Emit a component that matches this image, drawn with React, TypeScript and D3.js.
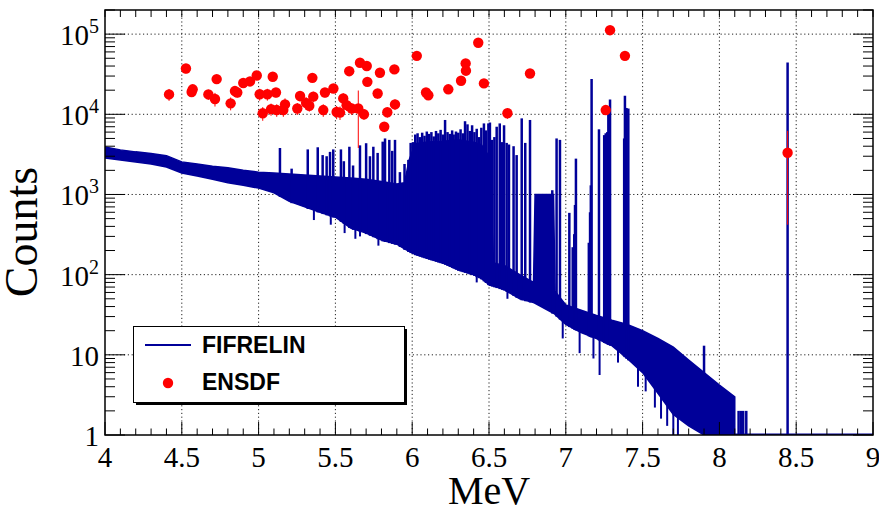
import React, { useEffect, useRef } from 'react';
import * as d3 from 'd3';

// continuum envelope of the FIFRELIN spectrum (MeV, counts)
const envE = [4.0, 4.1, 4.2, 4.3, 4.4, 4.5, 4.6, 4.7, 4.8, 4.9, 5.0, 5.1, 5.2, 5.3, 5.4, 5.5, 5.6, 5.7, 5.8, 5.9, 5.95, 5.98,
  6.02, 6.1, 6.2, 6.3, 6.4, 6.45, 6.5, 6.53, 6.6, 6.7, 6.79, 6.8, 6.92, 6.93, 7.0, 7.1, 7.2, 7.3, 7.4, 7.5, 7.6, 7.7, 7.8, 7.9, 8.0, 8.1];
const envLo = [2850, 2700, 2550, 2400, 2200, 1850, 1700, 1550, 1400, 1300, 1200, 1050, 820, 700, 600, 520, 380, 330, 270, 240, 210, 195,
  180, 160, 140, 115, 100, 90, 75, 72, 65, 50, 45, 44, 33, 32, 24, 19, 16, 13, 9, 6, 3.3, 1.8, 1.3, 1, 1, 1];
const envHi = [3900, 3600, 3400, 3250, 3050, 2550, 2400, 2250, 2150, 2000, 1900, 1850, 1800, 1750, 1700, 1650, 1600, 1550, 1450, 1350, 1400, 2700,
  4300, 4500, 4600, 4800, 4500, 4200, 3000, 140, 130, 100, 80, 1000, 1000, 62, 42, 36, 31, 27, 24, 20, 16, 12.5, 8.6, 6, 4.2, 3];

// gamma lines of the FIFRELIN spectrum (MeV, counts)
const peakE = [5.139, 5.215, 5.32, 5.385, 5.417, 5.443, 5.465, 5.486, 5.536, 5.555, 5.591, 5.615, 5.66, 5.70, 5.725, 5.747, 5.775,
  5.808, 5.823, 5.851, 5.87, 5.888, 5.92, 5.95,
  5.975, 5.99, 6.005, 6.02, 6.035, 6.05, 6.065, 6.08, 6.095, 6.11, 6.125, 6.14, 6.155, 6.17, 6.185, 6.2, 6.214, 6.23, 6.245,
  6.26, 6.27, 6.285, 6.3, 6.315, 6.33, 6.344, 6.36, 6.375, 6.39, 6.405, 6.42, 6.435, 6.45, 6.467, 6.48, 6.496, 6.506, 6.52,
  6.535, 6.55, 6.57, 6.585, 6.598, 6.615, 6.63, 6.66,
  6.68, 6.713, 6.736, 6.767, 6.912, 6.94, 6.962, 7.023, 7.045, 7.055, 7.06, 7.066,
  7.15, 7.158, 7.163, 7.168, 7.216, 7.25, 7.26, 7.27, 7.277, 7.288, 7.38, 7.385, 7.395, 7.407, 7.9, 8.125, 8.14, 8.155, 8.175, 8.444];
const peakH = [3800, 2100, 3650, 3880, 3100, 3000, 3400, 3650, 3650, 2600, 3940, 2300, 4100, 4360, 3000, 3940, 3300,
  4560, 5000, 4800, 3500, 4800, 1900, 2400,
  2700, 4400, 4500, 5600, 5800, 5200, 5900, 5400, 6100, 5700, 6000, 5300, 6200, 5800, 6400, 5600, 8500, 6000, 5700,
  6300, 5600, 6100, 5900, 6500, 5800, 8200, 7500, 6200, 7300, 6000, 6600, 5200, 6800, 7700, 6300, 7700, 7900, 4800,
  5200, 7000, 7700, 4500, 7300, 4400, 4200, 4000,
  3100, 8900, 4400, 8500, 1130, 5000, 4800, 590, 220, 320, 740, 2800,
  250, 600, 1300, 27500, 6500, 5500, 5800, 6000, 11300, 15300, 5000, 17000, 12000, 11800, 13, 2, 2, 2, 2, 44400];

// downward fluctuations of the continuum (MeV, counts)
const dipE = [5.36, 5.47, 5.56, 5.63, 5.66, 5.78, 6.42, 6.62, 6.98, 7.09, 7.18, 7.22, 7.34, 7.47, 7.52, 7.58, 7.62, 7.66, 7.7, 7.73];
const dipV = [480, 420, 330, 280, 300, 230, 80, 50, 16, 10.5, 9, 5.6, 8, 4, 3.5, 2.2, 1.6, 1.3, 1, 1];

// ENSDF intensities (MeV, counts, error)
const ensdfE = [4.417, 4.527, 4.564, 4.571, 4.673, 4.716, 4.727, 4.818, 4.846, 4.861, 4.9, 4.944, 4.988, 5.007, 5.027, 5.057,
  5.081, 5.092, 5.113, 5.118, 5.161, 5.172, 5.252, 5.27, 5.309, 5.33, 5.35, 5.356, 5.421, 5.432, 5.487, 5.508, 5.53, 5.551,
  5.573, 5.59, 5.606, 5.649, 5.66, 5.686, 5.704, 5.708, 5.775, 5.79, 5.818, 5.838, 5.884, 5.888, 6.03, 6.09, 6.105, 6.235,
  6.318, 6.348, 6.35, 6.43, 6.467, 6.62, 6.767, 7.26, 7.288, 7.385, 8.444];
const ensdfY = [17700, 37300, 19000, 20500, 17700, 15500, 27500, 13700, 19500, 18700, 24600, 25700, 30500, 17800, 10300, 17800,
  11600, 29400, 18700, 11300, 11300, 13300, 11800, 16900, 13900, 12800, 28500, 16600, 11300, 18700, 21000, 10700, 10500, 15800,
  13000, 34500, 11800, 11800, 44000, 10000, 40000, 25400, 18200, 33000, 7000, 10600, 36300, 13300, 53600, 18700, 17300, 20500,
  26200, 43100, 35000, 78000, 24300, 10300, 32300, 11300, 112000, 53600, 3320];
const ensdfErr = [3000, 5000, 2500, 2500, 2500, 3000, 3000, 2500, 2500, 2500, 3000, 3000, 3500, 3000, 2000, 3000,
  2000, 3000, 2500, 2000, 2000, 2500, 2000, 2500, 2500, 2000, 3000, 2500, 2000, 2500, 2500, 2000, 2000, 2500,
  2000, 3500, 2000, 8000, 4000, 1500, 4000, 3000, 2500, 3000, 1000, 1500, 3500, 2000, 4000, 2000, 2000, 2000,
  2500, 3500, 3000, 5000, 2500, 1500, 3000, 1500, 8000, 4000, 2900];

const xTicks = [4, 4.5, 5, 5.5, 6, 6.5, 7, 7.5, 8, 8.5, 9];
const xTickLabels = ['4', '4.5', '5', '5.5', '6', '6.5', '7', '7.5', '8', '8.5', '9'];
const yDecades = [1, 10, 100, 1000, 10000, 100000];
const yTickBase = ['1', '10', '10', '10', '10', '10'];
const yTickExp = ['', '', '2', '3', '4', '5'];

const BLUE = '#000099';
const RED = '#ff0000';

export default function App() {
  const ref = useRef<SVGSVGElement>(null);

  useEffect(() => {
    const svg = d3.select(ref.current);
    svg.selectAll('*').remove();
    const L = 105, R = 873, T = 10, B = 435;
    const x = d3.scaleLinear().domain([4, 9]).range([L, R]);
    const y = d3.scaleLog().domain([1, 2e5]).range([B, T]);
    const serif = '"Liberation Serif", "Times New Roman", serif';
    const sans = '"Liberation Sans", Arial, sans-serif';

    svg.append('defs').append('clipPath').attr('id', 'frame')
      .append('rect').attr('x', L).attr('y', T).attr('width', R - L).attr('height', B - T);

    // grid
    const grid = svg.append('g').attr('stroke', '#222').attr('stroke-width', 1).attr('stroke-dasharray', '1.2,2.6');
    xTicks.slice(1, -1).forEach(v => {
      grid.append('line').attr('x1', x(v)).attr('x2', x(v)).attr('y1', T).attr('y2', B);
    });
    yDecades.slice(1).forEach(v => {
      grid.append('line').attr('x1', L).attr('x2', R).attr('y1', y(v)).attr('y2', y(v));
    });

    const plot = svg.append('g').attr('clip-path', 'url(#frame)');
    // continuum band
    const env = envE.map((e, i) => ({ e, lo: envLo[i], hi: envHi[i] }));
    const area = d3.area<any>()
      .x(d => x(d.e))
      .y0(d => y(d.lo))
      .y1(d => y(d.hi));
    plot.append('path').attr('d', area(env)).attr('fill', BLUE).attr('stroke', BLUE).attr('stroke-width', 1.5);

    // peaks and dips
    const base = d3.scaleLinear().domain(envE).range(envLo).clamp(true);
    plot.append('g').selectAll('line')
      .data(peakE)
      .enter()
      .append('line')
      .attr('x1', d => x(d)).attr('x2', d => x(d))
      .attr('y1', d => y(base(d)) + 1)
      .attr('y2', (d, i) => y(peakH[i]))
      .attr('stroke', BLUE)
      .attr('stroke-width', 2.5);
    plot.append('g').selectAll('line')
      .data(dipE)
      .enter()
      .append('line')
      .attr('x1', d => x(d)).attr('x2', d => x(d))
      .attr('y1', d => y(base(d)) - 1)
      .attr('y2', (d, i) => y(dipV[i]))
      .attr('stroke', BLUE)
      .attr('stroke-width', 2);
    plot.append('line').attr('x1', x(8.1)).attr('x2', R).attr('y1', B - 0.5).attr('y2', B - 0.5)
      .attr('stroke', BLUE).attr('stroke-width', 2);

    // frame
    svg.append('rect').attr('x', L).attr('y', T).attr('width', R - L).attr('height', B - T)
      .attr('fill', 'none').attr('stroke', '#000').attr('stroke-width', 1.5);

    // ticks
    const ticks = svg.append('g').attr('stroke', '#000').attr('stroke-width', 1);
    d3.range(40, 91).map(v => v / 10).forEach((v, i) => {
      const major = i % 5 === 0;
      ticks.append('line').attr('x1', x(v)).attr('x2', x(v)).attr('y1', B).attr('y2', B - (major ? 13 : 6.5));
      ticks.append('line').attr('x1', x(v)).attr('x2', x(v)).attr('y1', T).attr('y2', T + 7);
    });
    yDecades.forEach(d => {
      ticks.append('line').attr('x1', L).attr('x2', L + 20).attr('y1', y(d)).attr('y2', y(d));
      ticks.append('line').attr('x1', R).attr('x2', R - 20).attr('y1', y(d)).attr('y2', y(d));
      d3.range(2, 10).forEach(k => {
        const v = k * d;
        if (v > 2e5) return;
        ticks.append('line').attr('x1', L).attr('x2', L + 10).attr('y1', y(v)).attr('y2', y(v));
        ticks.append('line').attr('x1', R).attr('x2', R - 10).attr('y1', y(v)).attr('y2', y(v));
      });
    });

    // tick labels
    svg.append('g').selectAll('text')
      .data(xTicks)
      .enter()
      .append('text')
      .attr('x', d => x(d))
      .attr('y', 467)
      .attr('text-anchor', 'middle')
      .style('font-family', serif)
      .style('font-size', '29px')
      .text((d, i) => xTickLabels[i]);
    yDecades.forEach((d, i) => {
      const t = svg.append('text')
        .attr('x', 99)
        .attr('y', y(d) + 11)
        .attr('text-anchor', 'end')
        .style('font-family', serif)
        .style('font-size', '29px');
      t.append('tspan').text(yTickBase[i]);
      if (yTickExp[i]) t.append('tspan').attr('dy', -12).style('font-size', '20px').text(yTickExp[i]);
    });

    // titles
    svg.append('text').attr('x', 489).attr('y', 504).attr('text-anchor', 'middle')
      .style('font-family', serif).style('font-size', '40px').text('MeV');
    svg.append('text').attr('transform', 'translate(37,232) rotate(-90)').attr('text-anchor', 'middle')
      .style('font-family', serif).style('font-size', '46px').text('Counts');

    // ENSDF points
    const pts = svg.append('g');
    ensdfE.forEach((e, i) => {
      const lo = Math.max(ensdfY[i] - ensdfErr[i], 1);
      pts.append('line').attr('x1', x(e)).attr('x2', x(e))
        .attr('y1', y(lo)).attr('y2', y(ensdfY[i] + ensdfErr[i]))
        .attr('stroke', RED).attr('stroke-width', 1);
    });
    pts.selectAll('circle')
      .data(ensdfE)
      .enter()
      .append('circle')
      .attr('cx', d => x(d))
      .attr('cy', (d, i) => y(ensdfY[i]))
      .attr('r', 5.2)
      .attr('fill', RED);

    // legend
    const lg = svg.append('g');
    lg.append('rect').attr('x', 136).attr('y', 329).attr('width', 271).attr('height', 76).attr('fill', '#000');
    lg.append('rect').attr('x', 133.5).attr('y', 326.5).attr('width', 271).attr('height', 76)
      .attr('fill', '#fff').attr('stroke', '#000').attr('stroke-width', 1);
    lg.append('line').attr('x1', 145).attr('x2', 191).attr('y1', 345).attr('y2', 345)
      .attr('stroke', BLUE).attr('stroke-width', 2);
    lg.append('circle').attr('cx', 168).attr('cy', 383).attr('r', 5.2).attr('fill', RED);
    lg.append('text').attr('x', 202).attr('y', 353).style('font-family', sans).style('font-weight', 'bold')
      .style('font-size', '23px').text('FIFRELIN');
    lg.append('text').attr('x', 202).attr('y', 390).style('font-family', sans).style('font-weight', 'bold')
      .style('font-size', '23px').text('ENSDF');
  }, []);

  return (
    <svg ref={ref} width={879} height={511}
      style={{ position: 'absolute', left: 0, top: 0, background: '#fff' }} />
  );
}
